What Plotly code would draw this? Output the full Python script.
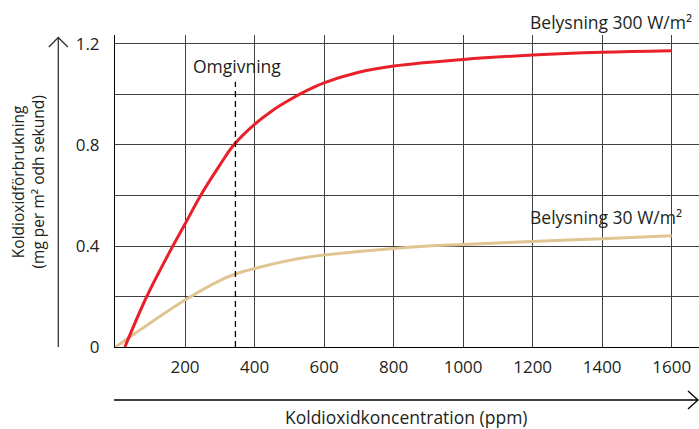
import plotly.graph_objects as go

# ---- data ----
red_ppm = [27, 90, 165, 200, 245, 300, 340, 400, 450, 500, 550, 600, 700, 800, 1000, 1200, 1400, 1600]
red_val = [0, 0.2, 0.4, 0.487, 0.6, 0.72, 0.8, 0.882, 0.935, 0.978, 1.015, 1.046, 1.088, 1.113, 1.139, 1.156, 1.167, 1.173]
tan_ppm = [0, 100, 200, 300, 345, 400, 500, 560, 600, 800, 900, 1000, 1200, 1400, 1600]
tan_val = [0, 0.095, 0.186, 0.263, 0.289, 0.311, 0.343, 0.357, 0.364, 0.390, 0.400, 0.406, 0.418, 0.429, 0.441]
x_ticks = [0, 200, 400, 600, 800, 1000, 1200, 1400, 1600]
x_labels = ["", "200", "400", "600", "800", "1000", "1200", "1400", "1600"]
y_ticks = [0, 0.2, 0.4, 0.6, 0.8, 1.0, 1.2]
y_labels = ["0", "", "0.4", "", "0.8", "", "1.2"]
ambient_ppm = 345
ambient_top = 1.05
label_high = "Belysning 300 W/m²"
label_low = "Belysning 30 W/m²"
label_ambient = "Omgivning"
x_title = "Koldioxidkoncentration (ppm)"
y_title = "Koldioxidförbrukning<br>(mg per m² odh sekund)"

W, H = 699, 429
ML, MR, MT, MB = 115, 0, 35, 82
PW, PH = W - ML - MR, H - MT - MB

def px(x):
    return (x - ML) / PW

def py(y):
    return (H - MB - y) / PH

FONT = "Open Sans"
TXT = "#231f20"

fig = go.Figure()
fig.add_trace(go.Scatter(x=tan_ppm, y=tan_val, mode="lines",
                         line=dict(color="#e0c593", width=3, shape="spline", smoothing=1),
                         hoverinfo="skip", showlegend=False))
fig.add_trace(go.Scatter(x=red_ppm, y=red_val, mode="lines",
                         line=dict(color="#e8202a", width=3, shape="spline", smoothing=1),
                         hoverinfo="skip", showlegend=False))
fig.add_trace(go.Scatter(x=[ambient_ppm, ambient_ppm], y=[0, ambient_top], mode="lines",
                         line=dict(color="#000000", width=1.3, dash="6px,4px"),
                         hoverinfo="skip", showlegend=False))

fig.update_layout(
    width=W, height=H, margin=dict(l=ML, r=MR, t=MT, b=MB),
    paper_bgcolor="white", plot_bgcolor="white",
    font=dict(family=FONT, color=TXT, size=17),
    xaxis=dict(range=[-1.4, 1678.6], tickvals=x_ticks, ticktext=x_labels,
               showgrid=True, gridcolor="#404040", gridwidth=1, zeroline=False,
               showline=True, linecolor="#000000", linewidth=1, ticks="",
               ticklabelstandoff=5, tickfont=dict(size=17, color=TXT)),
    yaxis=dict(range=[0, 1.2356], tickvals=y_ticks, ticktext=y_labels,
               showgrid=True, gridcolor="#404040", gridwidth=1, zeroline=False,
               showline=True, linecolor="#000000", linewidth=1, ticks="",
               ticklabelstandoff=11, tickfont=dict(size=17, color=TXT)),
)

# axis arrows
arrow_color = "#333333"
fig.add_shape(type="line", xref="paper", yref="paper",
              x0=px(58.3), y0=py(347), x1=px(58.3), y1=py(37.5),
              line=dict(color=arrow_color, width=1.3))
fig.add_shape(type="path", xref="paper", yref="paper",
              path=f"M {px(48.8)},{py(47)} L {px(58.3)},{py(37.5)} L {px(67.8)},{py(47)}",
              line=dict(color=arrow_color, width=1.3))
fig.add_shape(type="line", xref="paper", yref="paper",
              x0=px(114), y0=py(400), x1=px(698), y1=py(400),
              line=dict(color="#000000", width=1.3))
fig.add_shape(type="path", xref="paper", yref="paper",
              path=f"M {px(688)},{py(391)} L {px(698)},{py(400)} L {px(688)},{py(409)}",
              line=dict(color="#000000", width=1.3))

# annotations
fig.add_annotation(xref="paper", yref="paper", x=px(528), y=py(22), text=label_high,
                   showarrow=False, xanchor="left", yanchor="middle",
                   font=dict(size=17.5, color=TXT))
fig.add_annotation(xref="paper", yref="paper", x=px(528), y=py(217), text=label_low,
                   showarrow=False, xanchor="left", yanchor="middle",
                   font=dict(size=17.5, color=TXT))
fig.add_annotation(xref="paper", yref="paper", x=px(237), y=py(66), text=label_ambient,
                   showarrow=False, xanchor="center", yanchor="middle",
                   font=dict(size=17.5, color=TXT))
fig.add_annotation(xref="paper", yref="paper", x=px(406.5), y=py(416.5), text=x_title,
                   showarrow=False, xanchor="center", yanchor="middle",
                   font=dict(size=17.5, color=TXT))
fig.add_annotation(xref="paper", yref="paper", x=px(27), y=py(182.5), text=y_title,
                   showarrow=False, xanchor="center", yanchor="middle", textangle=-90,
                   font=dict(size=15.5, color=TXT))

fig.write_html("out.html", config={"displayModeBar": False},
               post_script="document.body.style.margin='0';document.body.style.overflow='hidden';")
